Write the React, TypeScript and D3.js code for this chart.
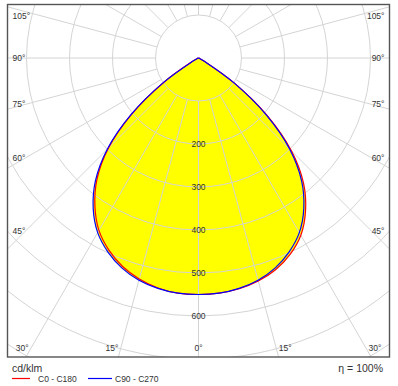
import React from "react";
import * as d3 from "d3";

// gamma angles (degrees from nadir)
const gammaAngles = [0, 5, 10, 15, 20, 25, 30, 35, 40, 45, 50, 55, 60, 65, 70, 75, 80, 85, 90];
// intensities cd/klm
const c0 = [550, 549, 545, 537, 524, 504, 476, 434, 380, 306, 210, 102, 18, 4, 1, 0, 0, 0, 0];
const c180 = [550, 549, 543, 532, 516, 493, 463, 420, 367, 296, 202, 98, 18, 4, 1, 0, 0, 0, 0];
const c90 = [550, 549, 544, 535, 520, 498, 469, 427, 373, 300, 205, 100, 18, 4, 1, 0, 0, 0, 0];
const c270 = [550, 549, 544, 535, 520, 498, 469, 427, 373, 300, 205, 100, 18, 4, 1, 0, 0, 0, 0];

const circleValues = [100, 200, 300, 400, 500, 600, 700, 800, 900, 1000];
const valueLabels = [200, 300, 400, 500, 600];
const angleTicks = [0, 15, 30, 45, 60, 75, 90, 105];
const rayAngles = d3.range(-180, 181, 15);
const unitLabel = "cd/klm";
const legendNames = ["C0 - C180", "C90 - C270"];
const legendColors = ["#ff0000", "#0000ff"];
const efficiencyLabel = "η = 100%";

const W = 398;
const H = 386;
const cx = 198.5;
const cy = 58;
const frame = { x0: 7.5, y0: 4.5, x1: 389.5, y1: 357 };
const FONT = "'Liberation Sans', Arial, sans-serif";

const r = d3.scaleLinear().domain([0, 100]).range([0, 43]);
const rad = (deg: number) => (deg * Math.PI) / 180;

type P = { a: number; v: number };

function buildPath(left: number[], right: number[]) {
  const pts: P[] = [];
  // left half: from 90° down to 0°
  for (let i = gammaAngles.length - 1; i >= 0; i--) {
    pts.push({ a: Math.PI + rad(gammaAngles[i]), v: left[i] });
  }
  // right half: from 0 (skip duplicate) up to 90
  for (let i = 1; i < gammaAngles.length; i++) {
    pts.push({ a: Math.PI - rad(gammaAngles[i]), v: right[i] });
  }
  const line = d3
    .lineRadial<P>()
    .angle((d) => d.a)
    .radius((d) => r(d.v))
    .curve(d3.curveCatmullRom.alpha(0.5));
  return line(pts) as string;
}

function angleLabel(a: number, s: number) {
  if (a === 0) return { x: cx, y: 348, anchor: "middle" };
  const inset = 173.5;
  const sa = Math.sin(rad(a));
  const ca = Math.cos(rad(a));
  const ySide = cy + (inset * ca) / sa;
  if (ySide < 340) {
    return {
      x: s < 0 ? 12.5 : 384.5,
      y: Math.max(ySide, 16),
      anchor: s < 0 ? "start" : "end",
    };
  }
  const rayX = cx + (s * (348 - cy) * sa) / ca;
  return { x: rayX + s * 2.5, y: 348, anchor: s < 0 ? "end" : "start" };
}

export default function App() {
  const pathA = buildPath(c180, c0);
  const pathB = buildPath(c270, c90);
  const innerR = r(100);
  const outerR = r(1400);

  const labels: { x: number; y: number; anchor: string; text: string }[] = [];
  angleTicks.forEach((a) => {
    if (a === 0) {
      const p = angleLabel(0, 1);
      labels.push({ ...p, text: "0°" });
    } else {
      [-1, 1].forEach((s) => {
        const p = angleLabel(a, s);
        labels.push({ ...p, text: `${a}°` });
      });
    }
  });

  return (
    <svg
      width={W}
      height={H}
      style={{ position: "absolute", left: 0, top: 0, background: "#fff" }}
      fontFamily={FONT}
    >
      <defs>
        <clipPath id="frameClip">
          <rect x={frame.x0} y={frame.y0} width={frame.x1 - frame.x0} height={frame.y1 - frame.y0} />
        </clipPath>
      </defs>
      <rect x={0} y={0} width={W} height={H} fill="#fff" />
      <g clipPath="url(#frameClip)">
        <g transform={`translate(${cx},${cy})`}>
          <path d={pathA} fill="#ffff00" stroke="none" />
          <path d={pathB} fill="#ffff00" stroke="none" />
          {rayAngles.map((a) => {
            const t = rad(a);
            return (
              <line
                key={`ray${a}`}
                x1={innerR * Math.sin(t)}
                y1={innerR * Math.cos(t)}
                x2={outerR * Math.sin(t)}
                y2={outerR * Math.cos(t)}
                stroke="#d4d4d4"
                strokeWidth={1}
              />
            );
          })}
          {circleValues.map((v) => (
            <circle key={`c${v}`} cx={0} cy={0} r={r(v)} fill="none" stroke="#d4d4d4" strokeWidth={1} />
          ))}
          <path d={pathA} fill="none" stroke={legendColors[0]} strokeWidth={1.2} />
          <path d={pathB} fill="none" stroke={legendColors[1]} strokeWidth={1.2} />
          {valueLabels.map((v) => (
            <text key={`vl${v}`} x={0} y={r(v)} dy="0.35em" textAnchor="middle" fontSize={8.5} fill="#333">
              {v}
            </text>
          ))}
        </g>
        {labels.map((l, i) => (
          <text key={`al${i}`} x={l.x} y={l.y} dy="0.35em" textAnchor={l.anchor as any} fontSize={8.5} fill="#333">
            {l.text}
          </text>
        ))}
      </g>
      <rect
        x={frame.x0}
        y={frame.y0}
        width={frame.x1 - frame.x0}
        height={frame.y1 - frame.y0}
        fill="none"
        stroke="#555"
        strokeWidth={1.4}
      />
      <text x={12} y={372} fontSize={10.5} fill="#333">
        {unitLabel}
      </text>
      <line x1={12} x2={30} y1={378.5} y2={378.5} stroke={legendColors[0]} strokeWidth={1.2} />
      <text x={38} y={382} fontSize={8.5} fill="#333">
        {legendNames[0]}
      </text>
      <line x1={88} x2={112} y1={378.5} y2={378.5} stroke={legendColors[1]} strokeWidth={1.2} />
      <text x={115} y={382} fontSize={8.5} fill="#333">
        {legendNames[1]}
      </text>
      <text x={383} y={372} fontSize={10.5} fill="#333" textAnchor="end">
        {efficiencyLabel}
      </text>
    </svg>
  );
}
